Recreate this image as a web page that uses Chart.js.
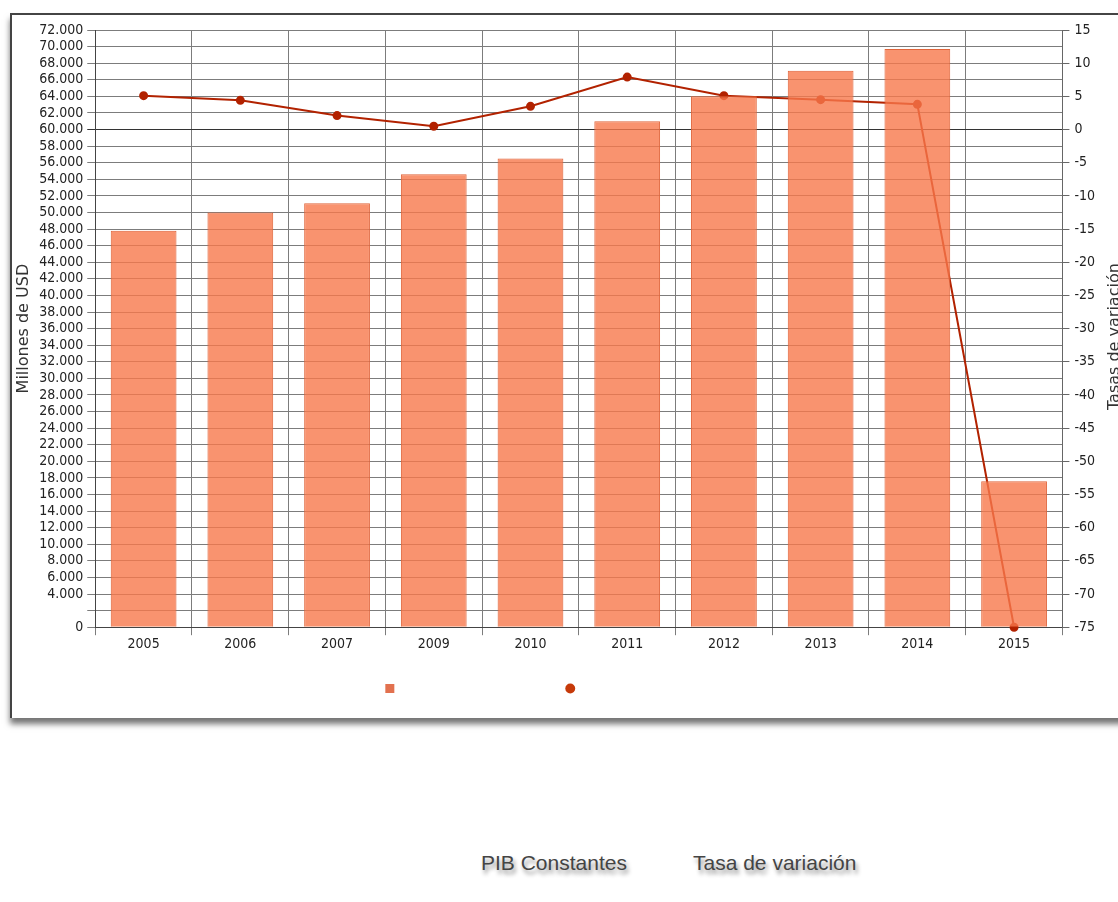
<!DOCTYPE html>
<html>
<head>
<meta charset="utf-8">
<script src="https://cdn.jsdelivr.net/npm/chart.js@4.4.0/dist/chart.umd.min.js"></script>
<style>
  html, body { margin: 0; padding: 0; background: #fff; overflow: hidden; width: 1118px; height: 902px; }
  #frame {
    position: absolute; left: 10px; top: 13px; width: 1160px; height: 703px;
    border-top: 2px solid #444; border-left: 2px solid #444;
    box-shadow: 0 6px 6px rgba(0, 0, 0, 0.55);
    background: #fff;
  }
  #lower {
    position: absolute; left: 10px; top: 718px; width: 1120px; bottom: 0;
    border-left: 2px solid #444; background: #fff; z-index: -1;
  }
  #box { position: absolute; left: 0; top: 0; width: 1150px; height: 703px; }
  .name {
    position: absolute; top: 851px; font-family: "Liberation Sans", Arial, sans-serif;
    font-size: 21px; color: #444; text-shadow: 2px 4px 4px rgba(0, 0, 0, 0.45);
  }
</style>
</head>
<body>
<div id="lower"></div>
<div id="frame"><div id="box"><canvas id="chart"></canvas></div></div>
<div class="name" style="left:481px">PIB Constantes</div>
<div class="name" style="left:693px">Tasa de variación</div>
<script>
const years = ['2005', '2006', '2007', '2009', '2010', '2011', '2012', '2013', '2014', '2015'];
const pibConstantes = [47800, 50000, 51100, 54600, 56500, 61000, 64000, 67100, 69700, 17600];
const tasaVariacion = [5.1, 4.4, 2.1, 0.5, 3.5, 7.9, 5.1, 4.5, 3.8, -75];
const leftTicks = { min: 0, max: 72000, step: 2000 };
const rightTicks = { min: -75, max: 15, step: 5 };

const tickFont = { family: 'DejaVu Sans Condensed', size: 14 };
const gridColor = '#7c7c7c';

// right title reads bottom to top like the left one
const rightTitle = {
  id: 'rightTitle',
  afterDraw(chart) {
    let ctx = chart.ctx;
    let a = chart.chartArea;
    ctx.save();
    ctx.translate(a.right + 52, (a.top + a.bottom) / 2 + 8);
    ctx.rotate(-Math.PI / 2);
    ctx.font = '16px "DejaVu Sans"';
    ctx.fillStyle = '#333';
    ctx.textAlign = 'center';
    ctx.textBaseline = 'middle';
    ctx.fillText('Tasas de variación', 0, 0);
    ctx.restore();
  }
};

new Chart(document.getElementById('chart'), {
  data: {
    labels: years,
    datasets: [{
      type: 'bar',
      label: 'PIB Constantes',
      data: pibConstantes,
      backgroundColor: 'rgba(248, 120, 75, 0.8)',
      borderColor: '#e0663c',
      borderWidth: 1,
      categoryPercentage: 1,
      barPercentage: 0.68,
      yAxisID: 'y',
      order: 1
    }, {
      type: 'line',
      label: 'Tasa de variación',
      data: tasaVariacion,
      borderColor: '#b22200',
      backgroundColor: '#b22200',
      borderWidth: 2,
      pointRadius: 3.5,
      pointHoverRadius: 3.5,
      tension: 0,
      clip: false,
      yAxisID: 'y1',
      order: 2
    }]
  },
  options: {
    responsive: true,
    maintainAspectRatio: false,
    animation: false,
    layout: { padding: { top: 15, right: 40, bottom: 9, left: 0 } },
    plugins: {
      tooltip: { enabled: false },
      legend: {
        position: 'bottom',
        labels: {
          usePointStyle: true,
          boxWidth: 7,
          boxHeight: 7,
          padding: 17,
          color: 'rgba(0,0,0,0)',
          font: { family: 'Liberation Sans', size: 21 },
          generateLabels(chart) {
            let items = Chart.defaults.plugins.legend.labels.generateLabels(chart);
            items.forEach((it, i) => {
              it.pointStyle = i === 0 ? 'rect' : 'circle';
              it.fillStyle = i === 0 ? '#e2714f' : '#c63a0a';
              it.strokeStyle = it.fillStyle;
              it.lineWidth = i === 0 ? 2 : 0;
            });
            return items;
          }
        }
      }
    },
    scales: {
      x: {
        afterFit: (s) => { s.height += 7; },
        grid: { color: gridColor, tickLength: 8 },
        border: { color: '#444' },
        ticks: { font: tickFont, color: '#222', padding: 1 }
      },
      y: {
        position: 'left',
        min: leftTicks.min,
        max: leftTicks.max,
        grid: {
          tickLength: 8,
          color: (c) => c.tick && c.tick.value === 60000 ? '#333' : gridColor
        },
        border: { color: '#444' },
        ticks: {
          stepSize: leftTicks.step,
          autoSkip: false,
          font: tickFont,
          color: '#222',
          padding: 4,
          callback: (v) => v === 2000 ? '' : v.toLocaleString('de-DE')
        },
        title: {
          display: true,
          text: 'Millones de USD',
          font: { family: 'DejaVu Sans', size: 16 },
          color: '#333',
          padding: { top: 2, bottom: 2 }
        }
      },
      y1: {
        position: 'right',
        min: rightTicks.min,
        max: rightTicks.max,
        afterFit: (s) => { s.width += 22; },
        grid: { drawOnChartArea: false, tickLength: 7, color: '#666' },
        border: { color: '#666' },
        ticks: { stepSize: rightTicks.step, autoSkip: false, font: tickFont, color: '#222', padding: 5 }
      }
    }
  },
  plugins: [rightTitle]
});
</script>
</body>
</html>
